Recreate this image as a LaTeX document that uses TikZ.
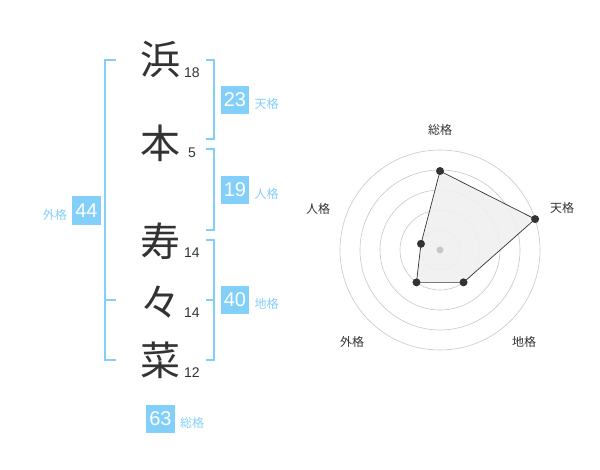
\documentclass[tikz,border=0pt]{standalone}
\usepackage{fontspec}
\setmainfont{Liberation Sans}
\newfontfamily\jp{Noto Sans CJK JP}
\usepackage{tikz}
\usetikzlibrary{positioning, calc}
\definecolor{kakublue}{HTML}{82CFFA}
\definecolor{inkgray}{HTML}{333333}
\tikzset{
  kanji/.style={font=\jp\fontsize{40}{40}\selectfont, text=inkgray, inner sep=0pt},
  strokes/.style={font=\fontsize{14}{14}\selectfont, text=inkgray, inner sep=0pt},
  kakubox/.style={fill=kakublue, text=white, font=\fontsize{20}{20}\selectfont, minimum width=28.5pt, minimum height=28.5pt, inner sep=0pt},
  kakulabel/.style={font=\jp\fontsize{12}{12}\selectfont, text=kakublue, inner sep=0pt},
  bracket/.style={draw=kakublue, line width=2pt},
  ring/.style={draw=black!22, line width=0.6pt},
  axlabel/.style={font=\jp\fontsize{12}{12}\selectfont, text=inkgray, inner sep=0pt},
  dot/.style={circle, fill=inkgray, minimum size=8pt, inner sep=0pt}
}

\begin{document}
\begin{tikzpicture}[x=1pt, y=-1pt]
\useasboundingbox (0,0) rectangle (600,470);
% name
\node[kanji] (c1) at (160,60) {浜};
\node[kanji] (c2) at (160,143) {本};
\node[kanji] (c3) at (160,241) {寿};
\node[kanji] (c4) at (160,302) {々};
\node[kanji] (c5) at (160,360) {菜};
% stroke counts
\node[strokes] (s1) at (192,73) {18};
\node[strokes] (s2) at (192,153) {5};
\node[strokes] (s3) at (192,253) {14};
\node[strokes] (s4) at (192,313) {14};
\node[strokes] (s5) at (192,373) {12};
% brackets
\draw[bracket] (116,60) -- (105,60) -- (105,360) -- (116,360);
\draw[bracket] (105,300) -- (116,300);
\draw[bracket] (206,60) -- (214,60) -- (214,139) -- (206,139);
\draw[bracket] (206,149) -- (214,149) -- (214,230) -- (206,230);
\draw[bracket] (206,240) -- (214,240) -- (214,360) -- (206,360);
\draw[bracket] (214,300) -- (206,300);
% scores
\node[kakubox] (ten) at (235,100) {23};
\node[kakulabel, right=5pt of ten, yshift=-4pt] (tenl) {天格};
\node[kakubox] (jin) at (235,190) {19};
\node[kakulabel, right=5pt of jin, yshift=-4pt] (jinl) {人格};
\node[kakubox] (chi) at (235,300) {40};
\node[kakulabel, right=5pt of chi, yshift=-4pt] (chil) {地格};
\node[kakubox] (gai) at (86.5,210.5) {44};
\node[kakulabel, left=5pt of gai, yshift=-4pt] (gail) {外格};
\node[kakubox] (sou) at (160.5,419) {63};
\node[kakulabel, right=5pt of sou, yshift=-4pt] (soul) {総格};
% radar
\coordinate (o) at (440,250);
\foreach \r in {20,40,60,80,100} \draw[ring] (o) circle (\r pt);
\coordinate (r1) at ($(o)+(90:79pt)$);
\coordinate (r2) at ($(o)+(18:100pt)$);
\coordinate (r3) at ($(o)+(-54:40pt)$);
\coordinate (r4) at ($(o)+(-126:40pt)$);
\coordinate (r5) at ($(o)+(162:20pt)$);
\filldraw[fill=black!6, fill opacity=0.9, draw=inkgray, line width=0.7pt] (r1) -- (r2) -- (r3) -- (r4) -- (r5) -- cycle;
\fill[black!22] (o) circle (3.5pt);
\foreach \p in {r1,r2,r3,r4,r5} \node[dot] at (\p) {};
\node[axlabel] (a1) at (440,130) {総格};
\node[axlabel] (a2) at (562,208) {天格};
\node[axlabel] (a3) at (524,342) {地格};
\node[axlabel] (a4) at (352,342) {外格};
\node[axlabel] (a5) at (318,209) {人格};
\end{tikzpicture}
\end{document}
